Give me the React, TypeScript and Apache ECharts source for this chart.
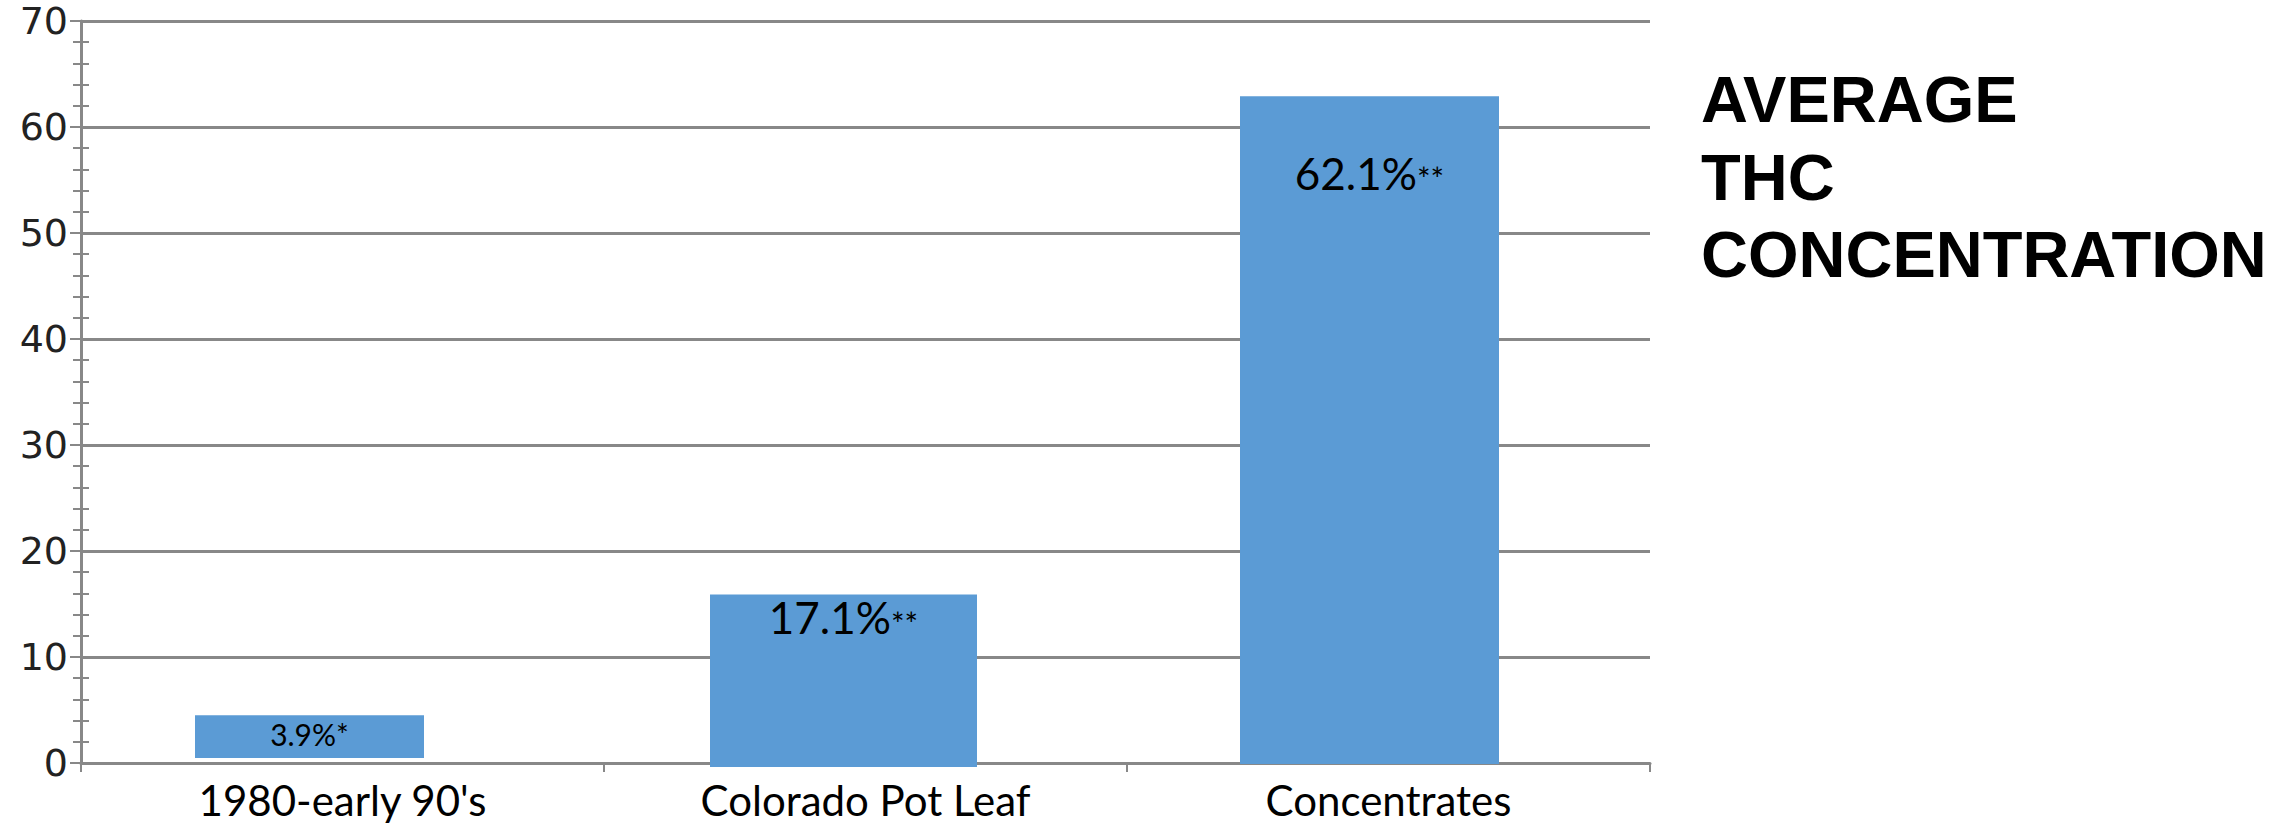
import React, { useEffect, useRef } from "react";
import * as echarts from "echarts";

const categories = ["1980-early 90's", "Colorado Pot Leaf", "Concentrates"];
const values = [4.5, 15.9, 62.9];
const valueLabels = ["3.9%", "17.1%", "62.1%"];
const labelMarks = ["*", "**", "**"];
const yMin = 0;
const yMax = 70;
const yInterval = 10;
const titleLines = ["AVERAGE", "THC", "CONCENTRATION"];

const GRAY = "#888888";
const BAR_COLOR = "#5B9BD5";

// drawing style per bar (pixel sizes / shifts, as in the hand-laid-out original)
const barWidths = [229, 267, 259];
const barShifts = [-33, -22, -19];
const barBottomShifts = [-5, 4, 1];
const labelCenterOffsets = [19, 23, 76.5];
const labelBigSizes = [30, 44, 44];
const labelSmallSizes = [30, 32, 32];

export default function App() {
  const ref = useRef<HTMLDivElement>(null);
  useEffect(() => {
    document.body.style.margin = "0";
    if (!ref.current) return;
    const chart = echarts.init(ref.current, undefined, { renderer: "svg" });

    chart.setOption({
      animation: false,
      backgroundColor: "#ffffff",
      title: {
        text: titleLines.join("\n"),
        left: 1701,
        top: 61,
        padding: 0,
        textStyle: {
          fontFamily: "Liberation Sans",
          fontWeight: "bold",
          fontSize: 65,
          lineHeight: 77.5,
          color: "#000",
        },
      },
      grid: { left: 81, right: 640, top: 21, bottom: 66, containLabel: false },
      xAxis: {
        type: "category",
        data: categories,
        axisLine: { show: true, lineStyle: { color: GRAY, width: 3 } },
        axisTick: { show: true, alignWithLabel: false, length: 9, lineStyle: { color: GRAY, width: 2 } },
        axisLabel: { fontFamily: "Lato", fontSize: 42, lineHeight: 42, color: "#000", margin: 16 },
      },
      yAxis: [
        {
          type: "value",
          min: yMin,
          max: yMax,
          interval: yInterval,
          position: "left",
          axisLine: { show: true, lineStyle: { color: GRAY, width: 3 } },
          axisTick: { show: true, length: 11, lineStyle: { color: GRAY, width: 2 } },
          minorTick: { show: true, splitNumber: 5, length: 8, lineStyle: { color: GRAY, width: 2 } },
          splitLine: { show: true, lineStyle: { color: GRAY, width: 3 } },
          axisLabel: { fontFamily: "DejaVu Sans", fontSize: 38, color: "#222", margin: 13 },
        },
        {
          type: "value",
          min: yMin,
          max: yMax,
          interval: yInterval,
          position: "left",
          offset: 0,
          axisLine: { show: false },
          axisTick: { show: false, inside: true },
          minorTick: { show: true, splitNumber: 5, length: 8, lineStyle: { color: GRAY, width: 2 } },
          splitLine: { show: false },
          axisLabel: { show: false },
        },
      ],
      series: [
        {
          type: "custom",
          data: values.map((v, i) => [i, v]),
          encode: { x: 0, y: 1 },
          renderItem: (params: any, api: any) => {
            const i = params.dataIndex;
            const top = api.coord([api.value(0), api.value(1)]);
            const base = api.coord([api.value(0), 0]);
            const cx = top[0] + barShifts[i];
            const w = barWidths[i];
            const y0 = top[1];
            const h = base[1] + barBottomShifts[i] - y0;
            return {
              type: "group",
              children: [
                {
                  type: "rect",
                  shape: { x: cx - w / 2, y: y0, width: w, height: h },
                  style: { fill: BAR_COLOR },
                },
                {
                  type: "text",
                  style: {
                    x: cx,
                    y: y0 + labelCenterOffsets[i],
                    text: `{a|${valueLabels[i]}}{b|${labelMarks[i]}}`,
                    align: "center",
                    verticalAlign: "middle",
                    rich: {
                      a: { fontFamily: "Lato", fontSize: labelBigSizes[i], fill: "#000", color: "#000" },
                      b: {
                        fontFamily: "Lato",
                        fontSize: labelSmallSizes[i],
                        fill: "#000",
                        color: "#000",
                        padding: i === 0 ? 0 : [12, 0, 0, 0],
                      },
                    },
                  },
                },
              ],
            };
          },
        },
      ],
    });
    return () => chart.dispose();
  }, []);
  return <div ref={ref} style={{ width: 2290, height: 829 }} />;
}
